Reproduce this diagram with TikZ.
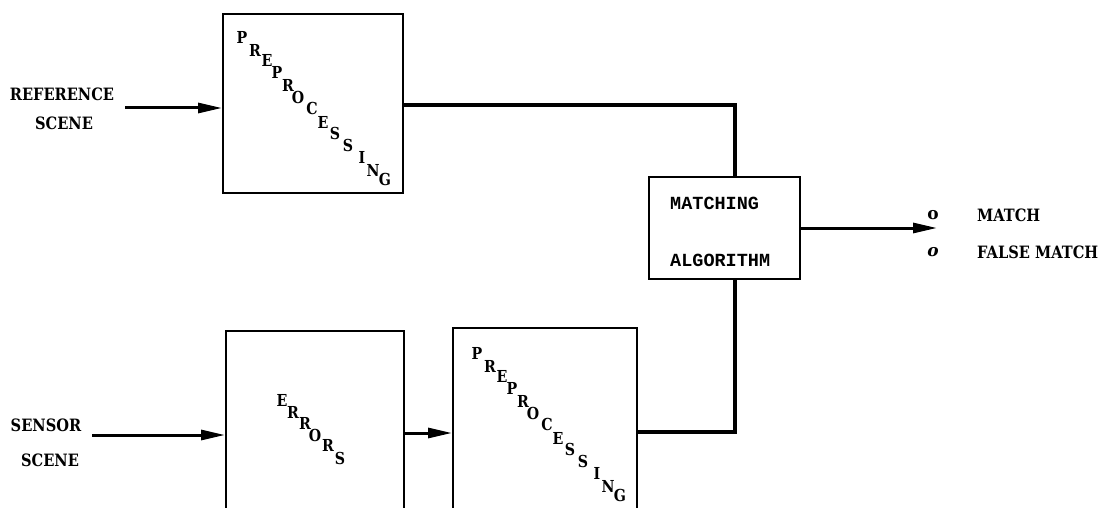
\documentclass[tikz,border=0pt]{standalone}
\usepackage{fontspec}
\setmainfont{DejaVu Serif}
\newfontfamily\twfont{Liberation Mono}
\usetikzlibrary{arrows.meta}
\newcommand{\nar}[1]{\scalebox{0.86}[1]{#1}}
\begin{document}
\begin{tikzpicture}[x=1pt,y=-1pt,
  box/.style={draw=black, line width=2pt, inner sep=0pt, anchor=north west},
  lbl/.style={inner sep=0pt, font=\fontsize{17}{20}\selectfont\bfseries},
  lt/.style={inner sep=0pt, font=\fontsize{16.5}{19}\selectfont\bfseries},
  tw/.style={inner sep=0pt, font=\fontsize{18.5}{22}\selectfont\twfont\bfseries},
  conn/.style={line width=3.2pt, line join=miter},
  arr/.style={line width=3pt, -{Triangle[length=24pt,width=10pt]}}]
\useasboundingbox (0,0) rectangle (1110,508);
\clip (0,0) rectangle (1110,508);
% boxes
\node[box, minimum width=180pt, minimum height=179pt] (pre1) at (222,13) {};
\node[box, minimum width=178pt, minimum height=200pt] (err) at (225,330) {};
\node[box, minimum width=184pt, minimum height=200pt] (pre2) at (452,327) {};
\node[box, minimum width=151pt, minimum height=102pt] (match) at (648,176) {};
% labels
\node[lbl] (ref1) at (62,94) {\nar{REFERENCE}};
\node[lbl] (ref2) at (64,123) {\nar{SCENE}};
\node[lbl] (sen1) at (46,425) {\nar{SENSOR}};
\node[lbl] (sen2) at (50,460) {\nar{SCENE}};
\node[tw, anchor=west] (mt1) at (670,203) {MATCHING};
\node[tw, anchor=west] (mt2) at (670,260) {ALGORITHM};
\node[lbl] (b1) at (933,215) {o};
\node[lbl, font=\fontsize{17}{20}\selectfont\bfseries\itshape] (b2) at (933,252) {o};
\node[lbl, anchor=west] (o1) at (977,215) {\nar{MATCH}};
\node[lbl, anchor=west] (o2) at (977,252) {\nar{FALSE MATCH}};
% stepped letters
\foreach \ch/\x/\y [count=\i] in {P/242/37,R/255/50,E/267/60,P/277/72,R/288/85,O/298/97,C/312/108,E/323/122,S/335/133,S/348/145,I/362/157,N/373/170,G/385/179}
  {\node[lt] (pa\i) at (\x,\y) {\nar{\ch}};
   \node[lt] (pb\i) at (\x+235,\y+316) {\nar{\ch}};}
\foreach \ch/\x/\y [count=\i] in {E/282/400,R/293/412,R/305/423,O/315/435,R/328/445,S/340/458}
  {\node[lt] (er\i) at (\x,\y) {\nar{\ch}};}
% connectors
\coordinate (rs) at (125,108);
\coordinate (ss) at (92,435);
\coordinate (j1) at (735,105);
\coordinate (j2) at (735,432);
\coordinate (eo) at (403,433);
\coordinate (out) at (937,228);
\draw[arr] (rs) -- (rs -| pre1.west);
\draw[arr] (ss) -- (ss -| err.west);
\draw[arr] (eo -| err.east) -- (eo -| pre2.west);
\draw[conn] (pre1.east |- j1) -- (j1) -- (j1 |- match.north);
\draw[conn] (pre2.east |- j2) -- (j2) -- (j2 |- match.south);
\draw[arr] (match.east |- out) -- (out);
\end{tikzpicture}
\end{document}
